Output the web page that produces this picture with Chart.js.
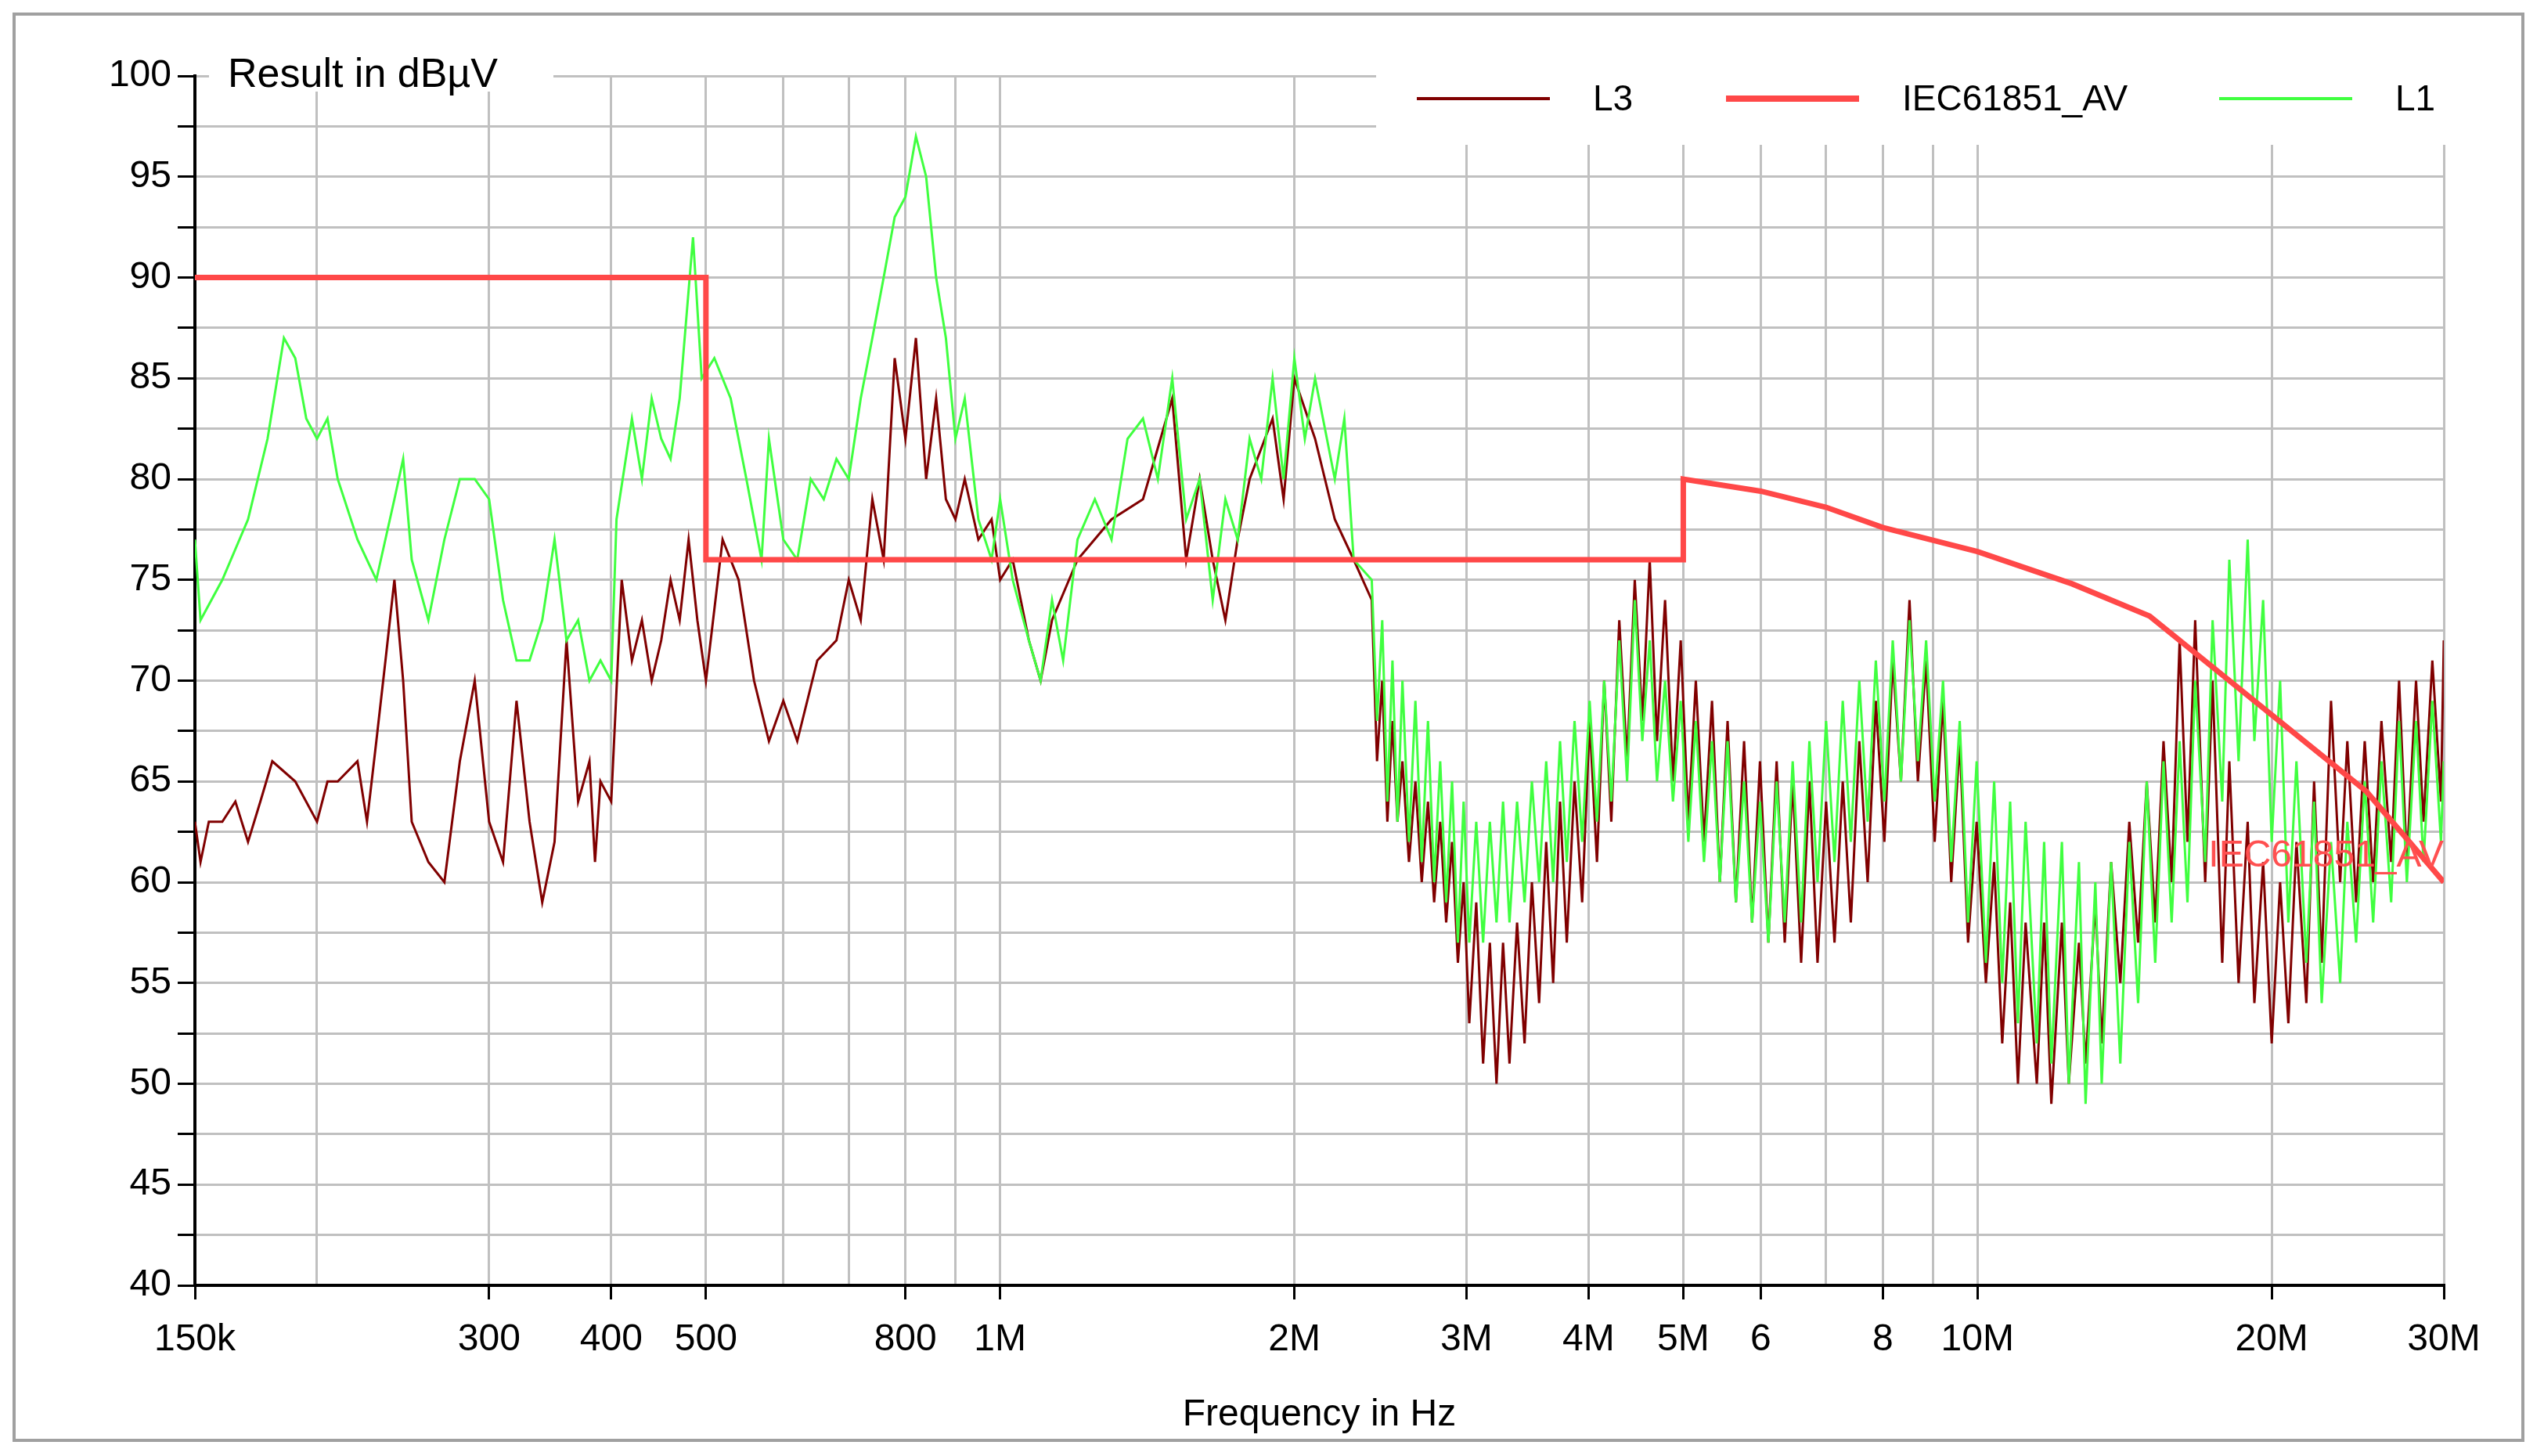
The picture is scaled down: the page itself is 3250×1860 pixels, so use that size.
<!DOCTYPE html>
<html>
<head>
<meta charset="utf-8">
<script src="https://cdn.jsdelivr.net/npm/chart.js@4.4.0/dist/chart.umd.min.js"></script>
<style>
  body{margin:0;background:#fff;}
  canvas{display:block;}
</style>
</head>
<body>
<canvas id="emc" width="3250" height="1860"></canvas>
<script>
// frequencies in MHz, levels in dBuV
var l1Points = [
  [0.15,77],[0.152,73],[0.16,75],[0.17,78],[0.178,82],[0.185,87],[0.19,86],[0.195,83],[0.2,82],[0.205,83],
  [0.21,80],[0.22,77],[0.23,75],[0.24,79],[0.245,81],[0.25,76],[0.26,73],[0.27,77],[0.28,80],[0.29,80],
  [0.3,79],[0.31,74],[0.32,71],[0.33,71],[0.34,73],[0.35,77],[0.36,72],[0.37,73],[0.38,70],[0.39,71],
  [0.4,70],[0.405,78],[0.42,83],[0.43,80],[0.44,84],[0.45,82],[0.46,81],[0.47,84],[0.485,92],[0.495,85],
  [0.51,86],[0.53,84],[0.55,80],[0.57,76],[0.58,82],[0.6,77],[0.62,76],[0.64,80],[0.66,79],[0.68,81],
  [0.7,80],[0.72,84],[0.74,87],[0.76,90],[0.78,93],[0.8,94],[0.82,97],[0.84,95],[0.86,90],[0.88,87],
  [0.9,82],[0.92,84],[0.95,78],[0.98,76],[1.0,79],[1.03,75],[1.07,72],[1.1,70],[1.13,74],[1.16,71],
  [1.2,77],[1.25,79],[1.3,77],[1.35,82],[1.4,83],[1.45,80],[1.5,85],[1.55,78],[1.6,80],[1.65,74],
  [1.7,79],[1.75,77],[1.8,82],[1.85,80],[1.9,85],[1.95,80],[2.0,86],[2.05,82],[2.1,85],[2.2,80],
  [2.25,83],[2.3,76],
  [2.40,75],[2.43,68],[2.46,73],[2.49,64],[2.52,71],[2.55,63],[2.58,70],[2.62,62],[2.66,69],[2.70,61],
  [2.74,68],[2.78,60],[2.82,66],[2.86,59],[2.90,65],[2.94,57],[2.98,64],[3.02,57],[3.07,63],[3.12,57],
  [3.17,63],[3.22,58],[3.27,64],[3.32,58],[3.38,64],[3.44,59],[3.50,65],[3.56,60],[3.62,66],[3.68,60],
  [3.74,67],[3.80,61],[3.87,68],[3.94,62],[4.01,69],[4.08,63],[4.15,70],[4.22,64],[4.30,72],[4.38,65],
  [4.46,74],[4.54,67],[4.62,72],[4.70,65],[4.79,70],[4.88,64],[4.97,69],[5.06,62],[5.15,68],[5.25,61],
  [5.35,67],[5.45,60],[5.55,67],[5.66,59],[5.77,65],[5.88,58],[5.99,64],[6.11,57],[6.23,65],[6.35,58],
  [6.47,66],[6.60,58],[6.73,67],[6.86,60],[7.00,68],[7.14,61],[7.28,69],[7.42,62],[7.57,70],[7.72,63],
  [7.87,71],[8.03,64],[8.19,72],[8.35,65],[8.52,73],[8.69,66],[8.86,72],[9.04,64],[9.22,70],[9.40,61],
  [9.59,68],[9.78,58],[9.98,66],[10.2,56],[10.4,65],[10.6,55],[10.8,64],[11.0,53],[11.2,63],[11.5,52],
  [11.7,62],[11.9,51],[12.2,62],[12.4,50],[12.7,61],[12.9,49],[13.2,60],[13.4,50],[13.7,61],[14.0,51],
  [14.3,62],[14.6,54],[14.9,65],[15.2,56],[15.5,66],[15.8,58],[16.1,67],[16.4,59],[16.7,70],[17.1,61],
  [17.4,73],[17.8,64],[18.1,76],[18.5,66],[18.9,77],[19.2,67],[19.6,74],[20.0,62],[20.4,70],[20.8,58],
  [21.2,66],[21.7,56],[22.1,64],[22.5,54],[23.0,62],[23.5,55],[23.9,63],[24.4,57],[24.9,65],[25.4,58],
  [25.9,66],[26.5,59],[27.0,68],[27.5,60],[28.1,68],[28.6,61],[29.2,69],[29.8,62],[30,66]
];
var l3Points = [
  [0.15,63],[0.152,61],[0.155,63],[0.16,63],[0.165,64],[0.17,62],[0.175,64],[0.18,66],[0.19,65],[0.2,63],
  [0.205,65],[0.21,65],[0.22,66],[0.225,63],[0.23,67],[0.235,71],[0.24,75],[0.245,70],[0.25,63],[0.26,61],
  [0.27,60],[0.28,66],[0.29,70],[0.3,63],[0.31,61],[0.32,69],[0.33,63],[0.34,59],[0.35,62],[0.36,72],
  [0.37,64],[0.38,66],[0.385,61],[0.39,65],[0.4,64],[0.41,75],[0.42,71],[0.43,73],[0.44,70],[0.45,72],
  [0.46,75],[0.47,73],[0.48,77],[0.49,73],[0.5,70],[0.52,77],[0.54,75],[0.56,70],[0.58,67],[0.6,69],
  [0.62,67],[0.65,71],[0.68,72],[0.7,75],[0.72,73],[0.74,79],[0.76,76],[0.78,86],[0.8,82],[0.82,87],
  [0.84,80],[0.86,84],[0.88,79],[0.9,78],[0.92,80],[0.95,77],[0.98,78],[1.0,75],[1.03,76],[1.07,72],
  [1.1,70],[1.13,73],[1.2,76],[1.3,78],[1.4,79],[1.5,84],[1.55,76],[1.6,80],[1.65,76],[1.7,73],
  [1.75,77],[1.8,80],[1.9,83],[1.95,79],[2.0,85],[2.1,82],[2.2,78],[2.3,76],
  [2.40,74],[2.43,66],[2.46,70],[2.49,63],[2.52,68],[2.55,63],[2.58,66],[2.62,61],[2.66,65],[2.70,60],
  [2.74,64],[2.78,59],[2.82,63],[2.86,58],[2.90,62],[2.94,56],[2.98,60],[3.02,53],[3.07,59],[3.12,51],
  [3.17,57],[3.22,50],[3.27,57],[3.32,51],[3.38,58],[3.44,52],[3.50,60],[3.56,54],[3.62,62],[3.68,55],
  [3.74,64],[3.80,57],[3.87,65],[3.94,59],[4.01,68],[4.08,61],[4.15,70],[4.22,63],[4.30,73],[4.38,66],
  [4.46,75],[4.54,68],[4.62,76],[4.70,67],[4.79,74],[4.88,65],[4.97,72],[5.06,63],[5.15,70],[5.25,62],
  [5.35,69],[5.45,60],[5.55,68],[5.66,59],[5.77,67],[5.88,58],[5.99,66],[6.11,57],[6.23,66],[6.35,57],
  [6.47,65],[6.60,56],[6.73,65],[6.86,56],[7.00,64],[7.14,57],[7.28,65],[7.42,58],[7.57,67],[7.72,60],
  [7.87,69],[8.03,62],[8.19,71],[8.35,65],[8.52,74],[8.69,65],[8.86,71],[9.04,62],[9.22,69],[9.40,60],
  [9.59,67],[9.78,57],[9.98,63],[10.2,55],[10.4,61],[10.6,52],[10.8,59],[11.0,50],[11.2,58],[11.5,50],
  [11.7,58],[11.9,49],[12.2,58],[12.4,50],[12.7,57],[12.9,51],[13.2,59],[13.4,52],[13.7,61],[14.0,55],
  [14.3,63],[14.6,57],[14.9,65],[15.2,58],[15.5,67],[15.8,60],[16.1,72],[16.4,62],[16.7,73],[17.1,60],
  [17.4,70],[17.8,56],[18.1,66],[18.5,55],[18.9,63],[19.2,54],[19.6,61],[20.0,52],[20.4,60],[20.8,53],
  [21.2,62],[21.7,54],[22.1,65],[22.5,56],[23.0,69],[23.5,60],[23.9,67],[24.4,59],[24.9,67],[25.4,60],
  [25.9,68],[26.5,61],[27.0,70],[27.5,61],[28.1,70],[28.6,63],[29.2,71],[29.8,64],[30,72]
];
var limitPoints = [[0.15,90],[0.5,90],[0.5,76],[5,76],[5,80],[6,79.4],[7,78.6],[8,77.6],[10,76.4],
  [12.5,74.8],[15,73.2],[20,68.3],[25,64.5],[30,60]];

var gridFreqs = [0.15,0.2,0.3,0.4,0.5,0.6,0.7,0.8,0.9,1,2,3,4,5,6,7,8,9,10,20,30];
var freqLabels = {0.15:'150k',0.3:'300',0.4:'400',0.5:'500',0.8:'800',1:'1M',2:'2M',3:'3M',4:'4M',5:'5M',6:'6',8:'8',10:'10M',20:'20M',30:'30M'};

var FONT = '"Liberation Sans", Arial, sans-serif';
function xy(p){ return p.map(function(d){ return {x:d[0], y:d[1]}; }); }

var decor = {
  id:'decor',
  beforeDraw:function(chart){
    var c = chart.ctx;
    c.save();
    c.fillStyle = '#fff';
    c.fillRect(0,0,chart.width,chart.height);
    c.restore();
  },
  afterDraw:function(chart){
    var c = chart.ctx, xs = chart.scales.x, ys = chart.scales.y, a = chart.chartArea;
    c.save();
    // outer frame
    c.strokeStyle = '#a0a0a0'; c.lineWidth = 4;
    c.strokeRect(18,18,3205,1822);
    // y title box
    c.fillStyle = '#fff';
    c.fillRect(a.left+18, a.top-40, 440, 60);
    c.fillStyle = '#000'; c.font = '52px ' + FONT; c.textBaseline = 'middle'; c.textAlign='left';
    c.fillText('Result in dBµV', a.left+42, a.top);
    // legend box
    c.fillStyle = '#fff';
    c.fillRect(1758, a.top-40, a.right-1758+4, 128);
    var items = [['L3','#800000',4,1810],['IEC61851_AV','#ff4848',8,2205],['L1','#40ff40',4,2835]];
    items.forEach(function(it){
      c.strokeStyle = it[1]; c.lineWidth = it[2];
      c.beginPath(); c.moveTo(it[3],126); c.lineTo(it[3]+170,126); c.stroke();
      c.fillStyle='#000'; c.font='46px '+FONT; c.textAlign='left';
      c.fillText(it[0], it[3]+225, 128);
    });
    // x tick labels
    c.fillStyle='#000'; c.font='48px '+FONT; c.textAlign='center'; c.textBaseline='middle';
    Object.keys(freqLabels).forEach(function(k){
      var px = xs.getPixelForValue(parseFloat(k));
      c.fillText(freqLabels[k], px, a.bottom+70);
    });
    c.fillText('Frequency in Hz', (a.left+a.right)/2, 1808);
    // limit label
    c.fillStyle='#ff5050'; c.font='48px '+FONT; c.textAlign='right';
    c.fillText('IEC61851_AV', xs.getPixelForValue(30), ys.getPixelForValue(61.3));
    c.restore();
  }
};

new Chart(document.getElementById('emc'), {
  type:'line',
  data:{
    datasets:[
      {label:'L3', data:xy(l3Points), borderColor:'#800000', borderWidth:3, pointRadius:0, tension:0, order:3},
      {label:'L1', data:xy(l1Points), borderColor:'#40ff40', borderWidth:3, pointRadius:0, tension:0, order:2},
      {label:'IEC61851_AV', data:xy(limitPoints), borderColor:'#ff4848', borderWidth:7, pointRadius:0, tension:0, order:1}
    ]
  },
  options:{
    responsive:false, devicePixelRatio:1, animation:false,
    layout:{padding:{top:97,right:128,left:0,bottom:0}},
    plugins:{legend:{display:false}, tooltip:{enabled:false}},
    scales:{
      x:{
        type:'logarithmic', min:0.15, max:30,
        afterBuildTicks:function(s){ s.ticks = gridFreqs.map(function(v){ return {value:v}; }); },
        afterFit:function(s){ s.height = 218; },
        ticks:{display:false},
        grid:{color:'#c0c0c0', lineWidth:3, tickLength:18, tickColor:function(ctx){ return freqLabels[ctx.tick && ctx.tick.value] ? '#000' : 'rgba(0,0,0,0)'; }},
        border:{color:'#000', width:4}
      },
      y:{
        min:40, max:100,
        afterBuildTicks:function(s){ var t=[]; for(var v=40; v<=100; v+=2.5) t.push({value:v}); s.ticks=t; },
        afterFit:function(s){ s.width = 249; },
        ticks:{color:'#000', font:{size:48, family:FONT}, padding:8,
          callback:function(v){ return v % 5 === 0 ? String(v) : ''; }},
        grid:{color:'#c0c0c0', lineWidth:3, tickLength:22, tickColor:'#000'},
        border:{color:'#000', width:4}
      }
    }
  },
  plugins:[decor]
});
</script>
</body>
</html>
